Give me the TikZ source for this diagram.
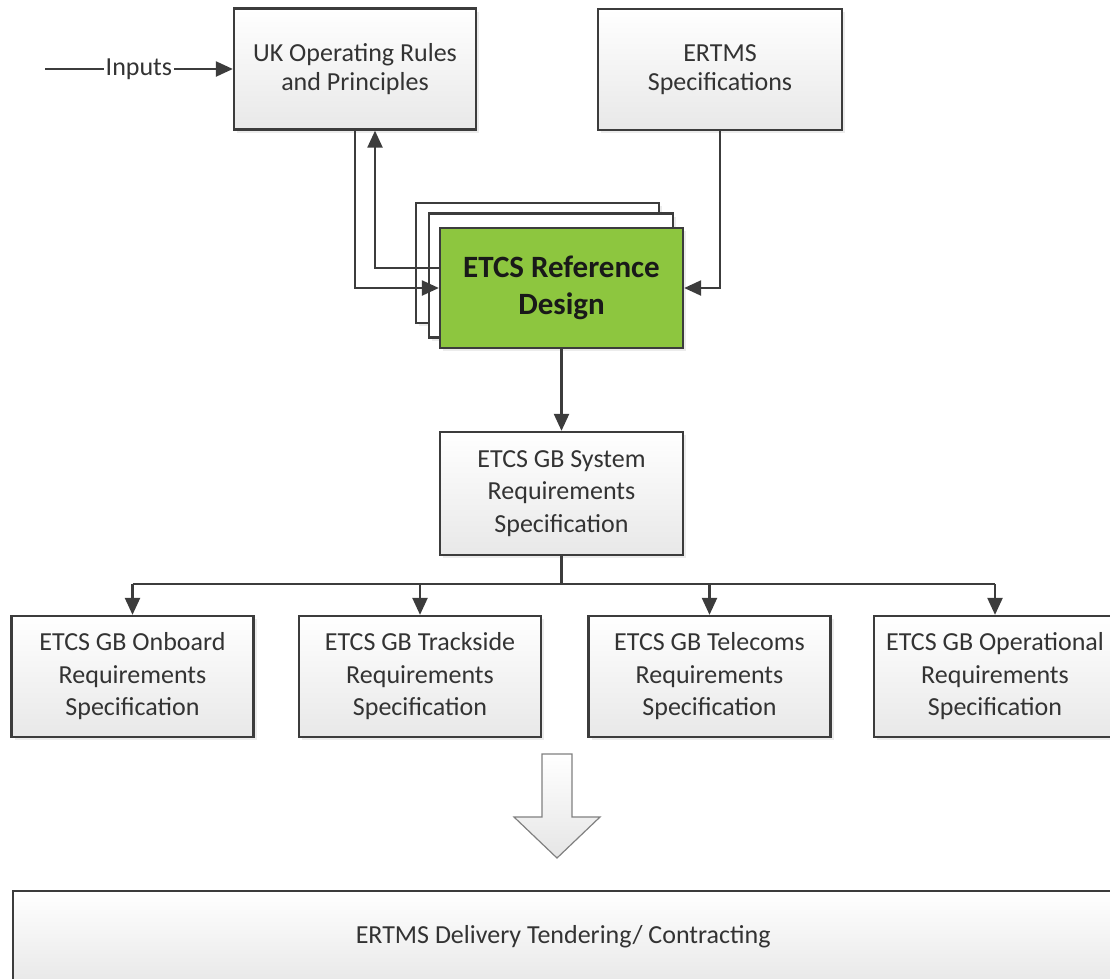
\documentclass[tikz,border=0pt]{standalone}
\usepackage{fontspec}
\setmainfont{Carlito}
\usetikzlibrary{arrows.meta,shadows}
\definecolor{refgreen}{RGB}{141,198,63}
\definecolor{linegray}{RGB}{60,60,60}

\begin{document}
\begin{tikzpicture}[x=1pt, y=-1pt,
		specbox/.style={draw=linegray, line width=2.3pt, top color=white, bottom color=black!9, minimum width=242, minimum height=121, inner sep=0pt, align=center, text=black!80, font=\fontsize{26}{32.5}\selectfont, drop shadow={shadow xshift=3pt, shadow yshift=-3pt, opacity=.15}},
		topbox/.style={specbox, font=\fontsize{26}{29}\selectfont},
		sheet/.style={draw=linegray, line width=2.3pt, fill=white, minimum width=243, minimum height=120, inner sep=0pt, drop shadow={shadow xshift=3pt, shadow yshift=-3pt, opacity=.15}},
		refbox/.style={sheet, fill=refgreen, align=center, text=black!90, font=\bfseries\fontsize{31}{37}\selectfont},
		link/.style={draw=linegray, line width=2.3pt, -{Triangle[length=17pt,width=15pt]}}]
				\useasboundingbox (0,0) rectangle (1110,978);
				\clip (0,0) rectangle (1110,978);

				% Sources
				\node[topbox] (uk) at (355,69) {UK Operating Rules\\and Principles};
				\node[topbox, minimum width=244] (ertms) at (720,69.5) {ERTMS\\Specifications};

				% Reference design (stacked sheets)
				\node[sheet] (refback) at (537.5,263) {};
				\node[sheet, minimum width=244, minimum height=124] (refmid) at (551,275.5) {};
				\node[refbox] (ref) at (561.5,288) {ETCS Reference\\Design};

				% System requirements
				\node[specbox, minimum width=243, minimum height=123] (sys) at (561.5,493.5) {ETCS GB System\\Requirements\\Specification};

				% Subsystem requirements
				\node[specbox] (onboard) at (132.5,676.5) {ETCS GB Onboard\\Requirements\\Specification};
				\node[specbox] (trackside) at (420,676.5) {ETCS GB Trackside\\Requirements\\Specification};
				\node[specbox] (telecoms) at (709.5,676.5) {ETCS GB Telecoms\\Requirements\\Specification};
				\node[specbox] (oper) at (995,676.5) {ETCS GB Operational\\Requirements\\Specification};

				% Delivery
				\draw[draw=black!50, line width=1.2pt, top color=white, bottom color=black!10] (542,754) -- (572,754) -- (572,817) -- (600,817) -- (557,858) -- (514,817) -- (542,817) -- cycle;
				\node[specbox, minimum width=1100, minimum height=92, anchor=north west] (tender) at (12,890) {ERTMS Delivery Tendering/ Contracting};

				% Connectors
				\coordinate (instart) at (45,69);
				\draw[link] (instart) -- node[fill=white, inner sep=2pt, text=black!80, font=\fontsize{26}{27}\selectfont] (inlbl) {Inputs} (instart -| uk.west);
				\draw[link] (uk.south) |- (ref.west);
				\draw[link] ([yshift=20pt]ref.west) -| ([xshift=20pt]uk.south);
				\draw[link] (ertms.south) |- (ref.east);
				\draw[link] (ref.south) -- (sys.north);
				\draw[draw=linegray, line width=2.3pt] (sys.south) -- ++(0,28) coordinate (split);
				\draw[draw=linegray, line width=2.3pt] (split -| onboard.north) -- (split -| oper.north);
				\foreach \n in {onboard,trackside,telecoms,oper}
					\draw[link] (split -| \n.north) -- (\n.north);
			\end{tikzpicture}
\end{document}
